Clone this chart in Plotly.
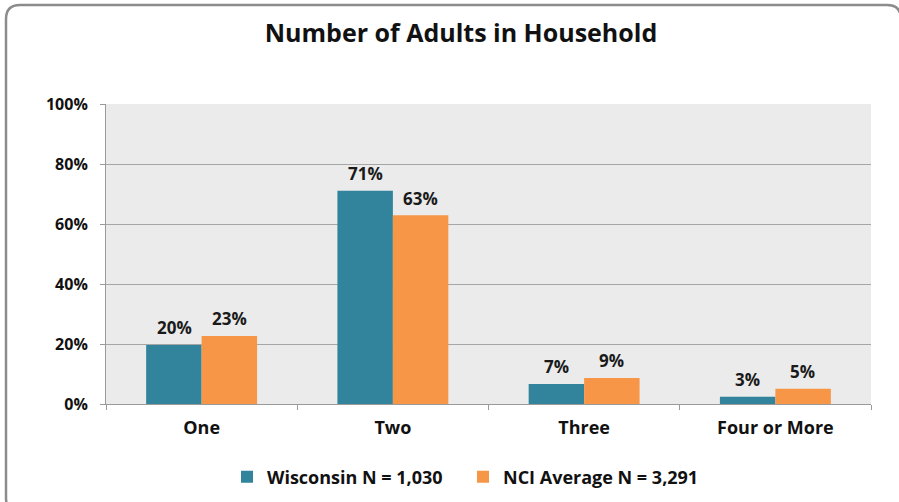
import plotly.graph_objects as go

categories = ["One", "Two", "Three", "Four or More"]
wisconsin = [19.7, 71.1, 6.7, 2.4]
nci = [22.7, 62.9, 8.7, 5.1]
wisconsin_labels = ["20%", "71%", "7%", "3%"]
nci_labels = ["23%", "63%", "9%", "5%"]
y_ticks = [0, 20, 40, 60, 80, 100]
y_tick_labels = ["0%", "20%", "40%", "60%", "80%", "100%"]

W, H = 899, 502
ML, MR, MT, MB = 106, 28, 104, 98
PW, PH = W - ML - MR, H - MT - MB

FONT = "Open Sans"
TEAL = "#31849B"
ORANGE = "#F79646"
BAR_HALF = 27.5

def px(x):
    return (x - ML) / PW

def py(y):
    return (H - MB - y) / PH

fig = go.Figure()
fig.add_trace(go.Bar(
    x=categories, y=wisconsin, name="Wisconsin N = 1,030",
    marker=dict(color=TEAL, line=dict(width=0)),
))
fig.add_trace(go.Bar(
    x=categories, y=nci, name="NCI Average N = 3,291",
    marker=dict(color=ORANGE, line=dict(width=0)),
))

annotations = []
for series, labels, shift in ((wisconsin, wisconsin_labels, -BAR_HALF),
                              (nci, nci_labels, BAR_HALF)):
    for c, v, t in zip(categories, series, labels):
        annotations.append(dict(
            x=c, y=v, xref="x", yref="y", text=t, showarrow=False,
            xshift=shift, yshift=17, yanchor="middle", xanchor="center",
            font=dict(family=FONT, size=17, color="#1a1a1a", weight="bold"),
        ))

# rounded frame around the chart
x0, y0, x1, y1, r = 6, 5, 901, 512, 14
path = (f"M {px(x0 + r)},{py(y0)} L {px(x1 - r)},{py(y0)} "
        f"Q {px(x1)},{py(y0)} {px(x1)},{py(y0 + r)} "
        f"L {px(x1)},{py(y1 - r)} Q {px(x1)},{py(y1)} {px(x1 - r)},{py(y1)} "
        f"L {px(x0 + r)},{py(y1)} Q {px(x0)},{py(y1)} {px(x0)},{py(y1 - r)} "
        f"L {px(x0)},{py(y0 + r)} Q {px(x0)},{py(y0)} {px(x0 + r)},{py(y0)} Z")

fig.update_layout(
    width=W, height=H,
    margin=dict(l=ML, r=MR, t=MT, b=MB, autoexpand=False),
    paper_bgcolor="white",
    plot_bgcolor="#EBEBEB",
    barmode="group",
    bargap=0.42,
    bargroupgap=0,
    font=dict(family=FONT, color="#1a1a1a"),
    title=dict(text="Number of Adults in Household", x=461 / W, xref="container",
               xanchor="center", y=1 - 33 / H, yanchor="middle",
               font=dict(family=FONT, size=25, color="#111111", weight="bold")),
    showlegend=True,
    legend=dict(orientation="h", x=px(463), xref="paper", xanchor="center",
                y=py(477), yanchor="middle",
                font=dict(family=FONT, size=18, color="#111111", weight="bold"),
                itemwidth=30, entrywidth=191, traceorder="normal"),
    annotations=annotations,
    shapes=[dict(type="path", path=path, xref="paper", yref="paper",
                 line=dict(color="#8C8C8C", width=2.5), fillcolor="rgba(0,0,0,0)",
                 layer="below")],
)

fig.update_xaxes(
    showgrid=False, showline=True, linecolor="#9A9A9A", linewidth=1,
    ticks="outside", ticklen=5, tickcolor="#9A9A9A",
    tickson="boundaries", ticklabelstandoff=7,
    tickfont=dict(family=FONT, size=18, color="#111111", weight="bold"),
)
fig.update_yaxes(
    range=[0, 100], tickvals=y_ticks, ticktext=y_tick_labels,
    showgrid=True, gridcolor="#A6A6A6", gridwidth=1,
    showline=True, linecolor="#9A9A9A", linewidth=1,
    ticks="outside", ticklen=5, tickcolor="#9A9A9A", ticklabelstandoff=9,
    tickfont=dict(family=FONT, size=16, color="#111111", weight="bold"),
    zeroline=False,
)

fig.write_html("out.html", config={"displayModeBar": False},
               post_script="document.body.style.margin='0';document.body.style.padding='0';")
